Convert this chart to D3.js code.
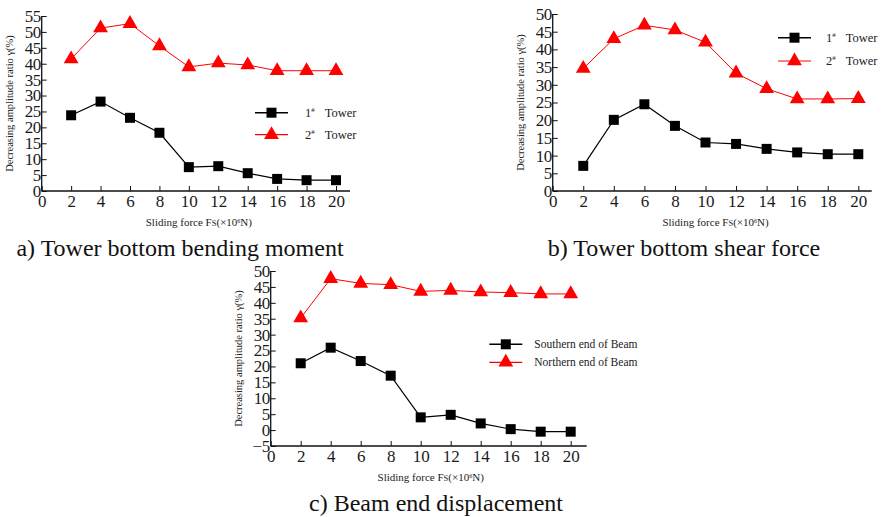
<!DOCTYPE html>
<html><head><meta charset="utf-8">
<script src="https://cdn.jsdelivr.net/npm/d3@7/dist/d3.min.js"></script>
<style>
body{margin:0;background:#fff;}
svg{display:block;font-family:"Liberation Serif","Times New Roman",serif;}
</style></head>
<body><svg id="chart" width="883" height="517"></svg>
<script>
const xValues = [2,4,6,8,10,12,14,16,18,20];
const xTickValues = [0,2,4,6,8,10,12,14,16,18,20];
const aTower1 = [23.8,28.1,23.0,18.3,7.5,7.8,5.6,3.8,3.4,3.4];
const aTower2 = [41.5,51.2,52.6,45.6,39.0,40.2,39.6,37.8,37.8,37.8];
const bTower1 = [7.1,20.1,24.5,18.4,13.7,13.3,11.9,10.9,10.4,10.4];
const bTower2 = [34.6,43.0,46.8,45.5,42.0,33.3,28.9,26.0,26.0,26.1];
const cSouth = [21.0,25.9,21.7,17.1,4.0,4.8,2.1,0.3,-0.5,-0.5];
const cNorth = [35.2,47.6,46.1,45.7,43.6,43.9,43.4,43.2,42.8,42.8];
const yTicksA = [0,5,10,15,20,25,30,35,40,45,50,55];
const yTicksB = [0,5,10,15,20,25,30,35,40,45,50];
const yTicksC = [-5,0,5,10,15,20,25,30,35,40,45,50];
const legendA = ["1","2"];
const legendC = ["Southern end of Beam","Northern end of Beam"];
const captions = ["a) Tower bottom bending moment","b) Tower bottom shear force","c) Beam end displacement"];
const yLabel = "Decreasing amplitude ratio γ(%)";

const svg = d3.select("#chart");

function panel(cfg){
  const g = svg.append("g");
  const x = d3.scaleLinear().domain([0,20]).range([cfg.x0,cfg.x20]);
  const y = d3.scaleLinear().domain([cfg.ymin,cfg.ymax]).range([cfg.yb,cfg.yt]);
  const ya = d3.axisLeft(y).tickValues(cfg.yticks).tickSize(-5).tickPadding(1).tickFormat(d3.format("d"));
  const yg = g.append("g").attr("transform",`translate(${cfg.x0},0)`).call(ya);
  yg.select(".domain").attr("d",`M0,${cfg.yb}V${cfg.yt}`).attr("stroke","#111").attr("stroke-width",1.3);
  const xa = d3.axisBottom(x).tickValues(xTickValues).tickSize(-5).tickPadding(4).tickFormat(d3.format("d"));
  const xg = g.append("g").attr("transform",`translate(0,${cfg.yb})`).call(xa);
  xg.select(".domain").attr("d",`M${cfg.x0},0H${cfg.xend}`).attr("stroke","#111").attr("stroke-width",1.3);
  [yg,xg].forEach(a=>{
    a.selectAll("text").attr("font-size",17).attr("fill","#1a1a1a").attr("font-family","Liberation Serif");
    a.selectAll(".tick line").attr("stroke","#111");
  });
  yg.selectAll("text").attr("letter-spacing",-0.5);
  g.append("text").attr("transform",`translate(${cfg.ylx},${(cfg.yb+cfg.yt)/2}) rotate(-90)`)
    .attr("text-anchor","middle").attr("font-size",10.5).attr("fill","#222").text(yLabel);
  const xl = g.append("text").attr("x",(cfg.x0+cfg.x20)/2+10).attr("y",cfg.yb+35).attr("text-anchor","middle")
    .attr("font-size",11).attr("fill","#222");
  xl.append("tspan").text("Sliding force F");
  xl.append("tspan").attr("font-size",8.5).text("S");
  xl.append("tspan").text("(×10");
  xl.append("tspan").attr("font-size",6).attr("dy",-3).text("6");
  xl.append("tspan").attr("dy",3).text("N)");
  const line = d3.line().x((d,i)=>x(xValues[i])).y(d=>y(d));
  g.append("path").datum(cfg.s1).attr("d",line).attr("fill","none").attr("stroke","#000").attr("stroke-width",1.2);
  g.append("path").datum(cfg.s2).attr("d",line).attr("fill","none").attr("stroke","#ff0000").attr("stroke-width",1);
  const sq = d3.symbol().type(d3.symbolSquare).size(100);
  const tri = d3.symbol().type(d3.symbolTriangle).size(95);
  g.selectAll(".s1").data(cfg.s1).join("path").attr("d",sq)
    .attr("transform",(d,i)=>`translate(${x(xValues[i])},${y(d)})`).attr("fill","#000");
  g.selectAll(".s2").data(cfg.s2).join("path").attr("d",tri)
    .attr("transform",(d,i)=>`translate(${x(xValues[i])},${y(d)})`).attr("fill","#ff0000");
  const L = cfg.leg;
  [[0,"#000",sq],[1,"#ff0000",tri]].forEach(([k,c,sym])=>{
    const yy = L.y + k*L.dy;
    g.append("line").attr("x1",L.x).attr("x2",L.x+33).attr("y1",yy).attr("y2",yy).attr("stroke",c).attr("stroke-width",k?1.2:1.5);
    g.append("path").attr("d",sym).attr("transform",`translate(${L.x+16.5},${yy})`).attr("fill",c);
    const t = g.append("text").attr("x",L.x+L.tx).attr("y",yy+4).attr("font-size",L.fs).attr("fill","#222");
    if(L.tower){
      t.append("tspan").text(legendA[k]);
      t.append("tspan").attr("font-size",7).attr("dy",-5).text("#");
      t.append("tspan").attr("dy",5).attr("dx",10).text("Tower");
    } else {
      t.text(legendC[k]);
    }
  });
  svg.append("text").attr("x",cfg.capx).attr("y",cfg.capy).attr("text-anchor","middle")
    .attr("font-size",24).attr("fill","#111").text(cfg.cap);
}

panel({x0:41.7,x20:336,xend:350,ymin:0,ymax:55,yb:191,yt:16,yticks:yTicksA,ylx:13,
  s1:aTower1,s2:aTower2,leg:{x:255,y:112.7,dy:22,tx:50,fs:12.5,tower:true},
  cap:captions[0],capx:180,capy:256});
panel({x0:552.7,x20:858.3,xend:871.7,ymin:0,ymax:50,yb:191,yt:14,yticks:yTicksB,ylx:524,
  s1:bTower1,s2:bTower2,leg:{x:778,y:37.7,dy:23.3,tx:48,fs:12.5,tower:true},
  cap:captions[1],capx:684,capy:256});
panel({x0:270.7,x20:570.7,xend:586.7,ymin:-5,ymax:50,yb:446,yt:271,yticks:yTicksC,ylx:242,
  s1:cSouth,s2:cNorth,leg:{x:489.3,y:344.3,dy:18,tx:45,fs:11.5,tower:false},
  cap:captions[2],capx:436,capy:511});
</script></body></html>
